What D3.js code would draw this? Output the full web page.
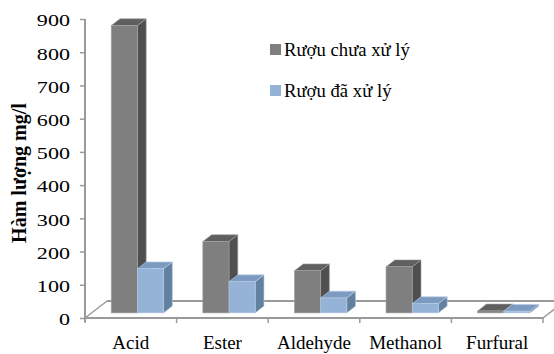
<!DOCTYPE html>
<html>
<head>
<meta charset="utf-8">
<script src="https://cdn.jsdelivr.net/npm/d3@7"></script>
<style>
  html, body { margin: 0; padding: 0; background: #fff; }
  svg { display: block; }
  text { font-family: "Liberation Serif", "Times New Roman", serif; fill: #000; }
</style>
</head>
<body>
<svg id="chart" width="554" height="354"></svg>
<script>
// Content of fusel compounds (mg/l) before and after treatment
const categories = ["Acid", "Ester", "Aldehyde", "Methanol", "Furfural"];
const seriesNames = ["Rượu chưa xử lý", "Rượu đã xử lý"];
const untreated = [865, 215, 127, 139, 6];
const treated = [133, 94, 45, 28, 5];
const yTicks = [0, 100, 200, 300, 400, 500, 600, 700, 800, 900];
const yTitle = "Hàm lượng mg/l";

const svg = d3.select("#chart");

// Front plane of the 3D floor
const plotLeft = 85, plotRight = 543, plotBottom = 318, plotTop = 19;
// Depth vector of the floor (towards the back)
const depth = { dx: 22, dy: -17 };
// Bars sit in the middle 40% of the floor depth
const d0 = 0.3, d1 = 0.7;

const x = d3.scaleBand().domain(categories).range([plotLeft, plotRight]).paddingInner(0).paddingOuter(0);
const y = d3.scaleLinear().domain([0, 900]).range([plotBottom, plotTop]);
const h = v => y(0) - y(v); // bar height in px

const series = [
  { name: seriesNames[0], values: untreated, front: "#7f7f7f", side: "#4f4f4f", topc: "#5f5f5f", edge: "#a2a2a2" },
  { name: seriesNames[1], values: treated,   front: "#95b3d7", side: "#64809f", topc: "#7d9bc1", edge: "#b9cde5" }
];

const lineColor = "#9a9a9a";

// Floor outline: back edge and side slants
const floor = svg.append("g");
floor.append("line")
  .attr("x1", plotLeft + depth.dx).attr("y1", plotBottom + depth.dy)
  .attr("x2", plotRight + depth.dx).attr("y2", plotBottom + depth.dy)
  .attr("stroke", lineColor).attr("stroke-width", 2);
floor.append("line")
  .attr("x1", plotLeft).attr("y1", plotBottom)
  .attr("x2", plotLeft + depth.dx).attr("y2", plotBottom + depth.dy)
  .attr("stroke", lineColor).attr("stroke-width", 1.5);
floor.append("line")
  .attr("x1", plotRight).attr("y1", plotBottom)
  .attr("x2", plotRight + depth.dx).attr("y2", plotBottom + depth.dy)
  .attr("stroke", lineColor).attr("stroke-width", 1.5);

// Bars: gap width 150% => bar width = band / 3.5
const bw = x.bandwidth() / 3.5;
const gapHalf = bw * 0.75;
const fx = depth.dx * d0, fy = depth.dy * d0;          // offset of bar front face
const bdx = depth.dx * (d1 - d0), bdy = depth.dy * (d1 - d0); // bar depth

const bars = svg.append("g");
categories.forEach((c, i) => {
  series.forEach((s, si) => {
    const v = s.values[i];
    const x0 = x(c) + gapHalf + si * bw + fx;
    const x1 = x0 + bw;
    const yb = y(0) + fy;
    const yt = yb - h(v);
    const g = bars.append("g");
    // side face
    g.append("path")
      .attr("d", `M${x1},${yb}L${x1 + bdx},${yb + bdy}L${x1 + bdx},${yt + bdy}L${x1},${yt}Z`)
      .attr("fill", s.side).attr("stroke", s.edge).attr("stroke-width", 0.6).attr("stroke-linejoin", "round");
    // top face
    g.append("path")
      .attr("d", `M${x0},${yt}L${x1},${yt}L${x1 + bdx},${yt + bdy}L${x0 + bdx},${yt + bdy}Z`)
      .attr("fill", s.topc).attr("stroke", s.edge).attr("stroke-width", 0.6).attr("stroke-linejoin", "round");
    // front face
    g.append("rect")
      .attr("x", x0).attr("y", yt)
      .attr("width", bw).attr("height", Math.max(0, yb - yt))
      .attr("fill", s.front).attr("stroke", s.edge).attr("stroke-width", 0.6);
  });
});

// Front floor edge (category axis) with ticks at band boundaries
const xAxis = svg.append("g");
xAxis.append("line")
  .attr("x1", plotLeft).attr("y1", plotBottom).attr("x2", plotRight).attr("y2", plotBottom)
  .attr("stroke", lineColor).attr("stroke-width", 2);
const bounds = categories.map(c => x(c)).concat([plotRight]);
xAxis.selectAll("line.tick").data(bounds).join("line")
  .attr("class", "tick")
  .attr("x1", d => d).attr("x2", d => d)
  .attr("y1", plotBottom).attr("y2", plotBottom + 5)
  .attr("stroke", lineColor).attr("stroke-width", 1.5);
xAxis.selectAll("text").data(categories).join("text")
  .attr("x", d => x(d) + x.bandwidth() / 2)
  .attr("y", 349)
  .attr("text-anchor", "middle")
  .attr("font-size", 19)
  .text(d => d);

// Value axis
const yAxisG = svg.append("g").attr("transform", `translate(${plotLeft},0)`)
  .call(d3.axisLeft(y).tickValues(yTicks).tickSize(5).tickPadding(0).tickFormat(d3.format("d")));
yAxisG.select(".domain").attr("stroke", lineColor).attr("stroke-width", 2)
  .attr("d", `M0,${plotTop}V${plotBottom + 4}`);
yAxisG.selectAll(".tick line").attr("stroke", lineColor).attr("stroke-width", 1.5);
yAxisG.selectAll(".tick text")
  .attr("font-family", "Liberation Serif, serif")
  .attr("font-size", 17)
  .attr("fill", "#000")
  .attr("text-anchor", "end")
  .attr("x", 0)
  .attr("dy", "0.4em")
  .attr("transform", "translate(-15,0) scale(1.3,1)");

// Axis title
svg.append("text")
  .attr("transform", "translate(26,173) rotate(-90)")
  .attr("text-anchor", "middle")
  .attr("font-size", 20)
  .attr("font-weight", "bold")
  .text(yTitle);

// Legend
const legend = svg.append("g");
series.forEach((s, i) => {
  const ly = 44 + i * 41;
  legend.append("rect").attr("x", 270).attr("y", ly).attr("width", 11).attr("height", 11).attr("fill", s.front);
  legend.append("text").attr("x", 284).attr("y", ly + 12).attr("font-size", 18.7).text(s.name);
});
</script>
</body>
</html>
